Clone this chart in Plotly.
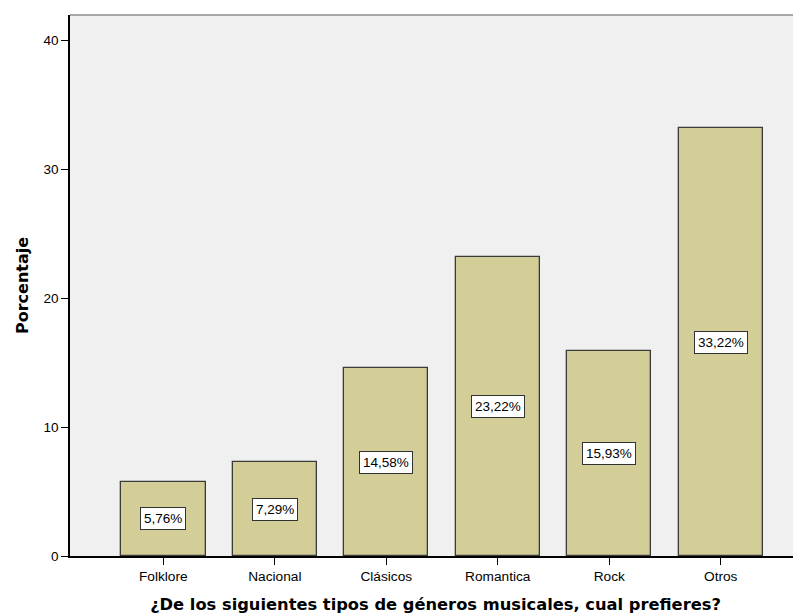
import plotly.graph_objects as go

categories = ["Folklore", "Nacional", "Clásicos", "Romantica", "Rock", "Otros"]
values = [5.76, 7.29, 14.58, 23.22, 15.93, 33.22]
labels = ["5,76%", "7,29%", "14,58%", "23,22%", "15,93%", "33,22%"]
y_ticks = [0, 10, 20, 30, 40]

fig = go.Figure()
fig.add_trace(go.Bar(
    x=list(range(len(categories))),
    y=values,
    width=0.757,
    marker=dict(color="#d3ce97", line=dict(color="#3a3a3a", width=1.3)),
    hoverinfo="skip",
))

for i, (v, t) in enumerate(zip(values, labels)):
    fig.add_annotation(
        x=i, y=v / 2, text=t, showarrow=False,
        font=dict(family="Liberation Sans, Arial", size=13.5, color="black"),
        bgcolor="white", bordercolor="#333333", borderwidth=1, borderpad=3,
    )

fig.add_shape(type="line", xref="paper", yref="paper", x0=0, x1=1, y0=1, y1=1,
              line=dict(color="#a8a8a8", width=2))

fig.update_layout(
    width=793, height=607,
    margin=dict(l=62, r=0, t=7, b=59),
    paper_bgcolor="white",
    plot_bgcolor="#f0f0f0",
    showlegend=False,
    bargap=0,
    xaxis=dict(
        range=[-0.837, 5.72],
        tickmode="array",
        tickvals=list(range(len(categories))),
        ticktext=categories,
        ticks="outside", ticklen=7, tickcolor="black", tickwidth=1.3,
        showline=True, linecolor="black", linewidth=1.5,
        showgrid=False, zeroline=False,
        tickfont=dict(family="Liberation Sans, Arial", size=13.7, color="black"),
        title=dict(text="<b>¿De los siguientes tipos de géneros musicales, cual prefieres?</b>",
                   font=dict(family="DejaVu Sans", size=16.3, color="black"), standoff=15),
    ),
    yaxis=dict(
        range=[0, 42],
        tickmode="array",
        tickvals=y_ticks,
        ticks="outside", ticklen=7, tickcolor="black", tickwidth=1.3,
        showline=True, linecolor="black", linewidth=1.5,
        showgrid=False, zeroline=False,
        tickfont=dict(family="Liberation Sans, Arial", size=13.5, color="black"),
        title=dict(text="<b>Porcentaje</b>",
                   font=dict(family="DejaVu Sans", size=16, color="black"), standoff=11),
    ),
)

fig.write_html("out.html")
